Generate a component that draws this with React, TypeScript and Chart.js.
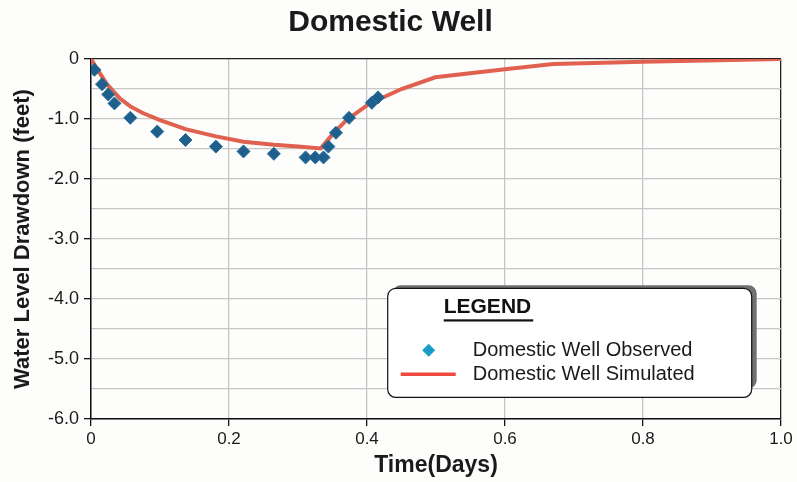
import React, { useEffect, useRef } from "react";
import { Chart, registerables } from "chart.js";

Chart.register(...registerables);

// ---- Data ----
const observedTime = [0.005, 0.016, 0.025, 0.034, 0.057, 0.096, 0.137, 0.181, 0.221, 0.265, 0.311, 0.325, 0.337, 0.344, 0.355, 0.374, 0.407, 0.416];
const observedDrawdown = [-0.18, -0.42, -0.59, -0.74, -0.98, -1.21, -1.35, -1.46, -1.54, -1.58, -1.64, -1.64, -1.64, -1.46, -1.23, -0.98, -0.73, -0.64];

const simulatedTime = [0, 0.008, 0.023, 0.042, 0.057, 0.075, 0.1, 0.137, 0.181, 0.221, 0.265, 0.3, 0.333, 0.349, 0.37, 0.404, 0.45, 0.499, 0.6, 0.67, 0.8, 1.0];
const simulatedDrawdown = [0, -0.15, -0.42, -0.66, -0.79, -0.9, -1.02, -1.17, -1.29, -1.38, -1.43, -1.46, -1.49, -1.27, -1.02, -0.74, -0.5, -0.305, -0.17, -0.083, -0.045, 0];

const xTickLabels = ["0", "0.2", "0.4", "0.6", "0.8", "1.0"];
const yTickValues = [0, -1, -2, -3, -4, -5, -6];
const yTickLabels = ["0", "-1.0", "-2.0", "-3.0", "-4.0", "-5.0", "-6.0"];

const seriesNames = ["Domestic Well Observed", "Domestic Well Simulated"];
const chartTitle = "Domestic Well";
const xTitle = "Time(Days)";
const yTitle = "Water Level Drawdown (feet)";
const legendTitle = "LEGEND";

const FONT = "'Liberation Sans', Arial, Helvetica, sans-serif";
const GRID = "#c6c6c6";
const DARK = "#1a1a1a";
const OBS_COLOR = "#1f5f8c";
const OBS_LEGEND_COLOR = "#1b9cc6";
const SIM_COLOR = "#e0614f";
const SIM_LEGEND_COLOR = "#f0493e";

const bgPlugin = {
  id: "bg",
  beforeDraw(chart: any) {
    const { ctx, width, height } = chart;
    ctx.save();
    ctx.fillStyle = "#fdfdfb";
    ctx.fillRect(0, 0, width, height);
    ctx.restore();
  },
};

const legendPlugin = {
  id: "customLegend",
  afterDraw(chart: any) {
    const { ctx, chartArea } = chart;
    const w = chartArea.right - chartArea.left;
    const h = chartArea.bottom - chartArea.top;
    const x0 = chartArea.left + w * 0.43;
    const y0 = chartArea.top + h * 0.637;
    const bw = 364;
    const bh = 109;
    ctx.save();
    // shadow
    ctx.fillStyle = "#707070";
    ctx.beginPath();
    ctx.roundRect(x0 + 5, y0 - 3, bw, bh - 6, 8);
    ctx.fill();
    // box
    ctx.fillStyle = "#ffffff";
    ctx.strokeStyle = "#111111";
    ctx.lineWidth = 1.2;
    ctx.beginPath();
    ctx.roundRect(x0, y0, bw, bh, 8);
    ctx.fill();
    ctx.stroke();
    // title
    ctx.fillStyle = "#111111";
    ctx.font = `bold 21px ${FONT}`;
    ctx.textBaseline = "middle";
    ctx.textAlign = "left";
    const tx = x0 + 56;
    const ty = y0 + 19;
    ctx.fillText(legendTitle, tx, ty);
    const tw = ctx.measureText(legendTitle).width;
    ctx.fillRect(tx, ty + 12, tw + 2, 2.2);
    // items
    ctx.font = `20px ${FONT}`;
    ctx.fillStyle = "#1a1a1a";
    ctx.fillText(seriesNames[0], x0 + 85, y0 + 62);
    ctx.fillText(seriesNames[1], x0 + 85, y0 + 86);
    // diamond
    const dx = x0 + 41;
    const dy = y0 + 62;
    ctx.fillStyle = OBS_LEGEND_COLOR;
    ctx.beginPath();
    ctx.moveTo(dx, dy - 6.5);
    ctx.lineTo(dx + 6.5, dy);
    ctx.lineTo(dx, dy + 6.5);
    ctx.lineTo(dx - 6.5, dy);
    ctx.closePath();
    ctx.fill();
    // line
    ctx.strokeStyle = SIM_LEGEND_COLOR;
    ctx.lineWidth = 3.5;
    ctx.beginPath();
    ctx.moveTo(x0 + 13, y0 + 86);
    ctx.lineTo(x0 + 68, y0 + 86);
    ctx.stroke();
    ctx.restore();
  },
};

export default function App() {
  const canvasRef = useRef<HTMLCanvasElement | null>(null);

  useEffect(() => {
    document.body.style.margin = "0";
    const canvas = canvasRef.current;
    if (!canvas) return;

    const observed = observedTime.map((t, i) => ({ x: t, y: observedDrawdown[i] }));
    const simulated = simulatedTime.map((t, i) => ({ x: t, y: simulatedDrawdown[i] }));

    const chart = new Chart(canvas, {
      type: "scatter",
      data: {
        datasets: [
          {
            label: seriesNames[0],
            data: observed,
            pointStyle: "rectRot",
            pointRadius: 6.5,
            pointBackgroundColor: OBS_COLOR,
            pointBorderColor: "#2b6f9c",
            pointBorderWidth: 1,
            showLine: false,
            order: 1,
          },
          {
            label: seriesNames[1],
            data: simulated,
            showLine: true,
            borderColor: SIM_COLOR,
            borderWidth: 4,
            pointRadius: 0,
            tension: 0,
            order: 2,
          },
        ],
      },
      options: {
        animation: false,
        responsive: false,
        devicePixelRatio: 1,
        layout: { padding: { top: 0, right: 16, left: 0, bottom: 0 } },
        plugins: {
          legend: { display: false },
          tooltip: { enabled: false },
          title: {
            display: true,
            text: chartTitle,
            color: DARK,
            font: { family: FONT, size: 30, weight: "bold" },
            padding: { top: 5, bottom: 18 },
          },
        },
        scales: {
          x: {
            type: "linear",
            min: 0,
            max: 1,
            afterFit: (scale: any) => {
              scale.height = 63;
            },
            border: { display: true, color: "#111", width: 1.5 },
            grid: {
              color: (c: any) => (c.tick && Math.abs(c.tick.value - 1) < 1e-6 ? "#222" : GRID),
              lineWidth: 1.3,
              tickLength: 7,
              tickColor: "#111",
            },
            ticks: {
              stepSize: 0.2,
              autoSkip: false,
              maxRotation: 0,
              padding: 3,
              color: DARK,
              font: { family: FONT, size: 17 },
              callback: (_v: any, i: number) => xTickLabels[i],
            },
            title: {
              display: true,
              text: xTitle,
              color: DARK,
              font: { family: FONT, size: 23, weight: "bold" },
              padding: { top: 0, bottom: 3 },
            },
          },
          y: {
            type: "linear",
            min: -6,
            max: 0,
            afterFit: (scale: any) => {
              scale.width = 91;
            },
            border: { display: true, color: "#111", width: 1.5 },
            grid: {
              color: (c: any) => (c.tick && Math.abs(c.tick.value) < 1e-6 ? "#222" : GRID),
              lineWidth: 1.3,
              tickLength: 7,
              tickColor: (c: any) => {
                const v = c.tick ? c.tick.value : 0.5;
                return yTickValues.some((t) => Math.abs(t - v) < 1e-6) ? "#111" : "rgba(0,0,0,0)";
              },
            },
            ticks: {
              stepSize: 0.5,
              autoSkip: false,
              padding: 5,
              color: DARK,
              font: { family: FONT, size: 18 },
              callback: (v: any) => {
                const idx = yTickValues.findIndex((t) => Math.abs(t - Number(v)) < 1e-6);
                return idx >= 0 ? yTickLabels[idx] : "";
              },
            },
            title: {
              display: true,
              text: yTitle,
              color: DARK,
              font: { family: FONT, size: 22, weight: "bold" },
              padding: { top: 10, bottom: 0 },
            },
          },
        },
      },
      plugins: [bgPlugin, legendPlugin],
    });

    return () => chart.destroy();
  }, []);

  return (
    <div style={{ width: 797, height: 482 }}>
      <canvas ref={canvasRef} width={797} height={482} />
    </div>
  );
}
